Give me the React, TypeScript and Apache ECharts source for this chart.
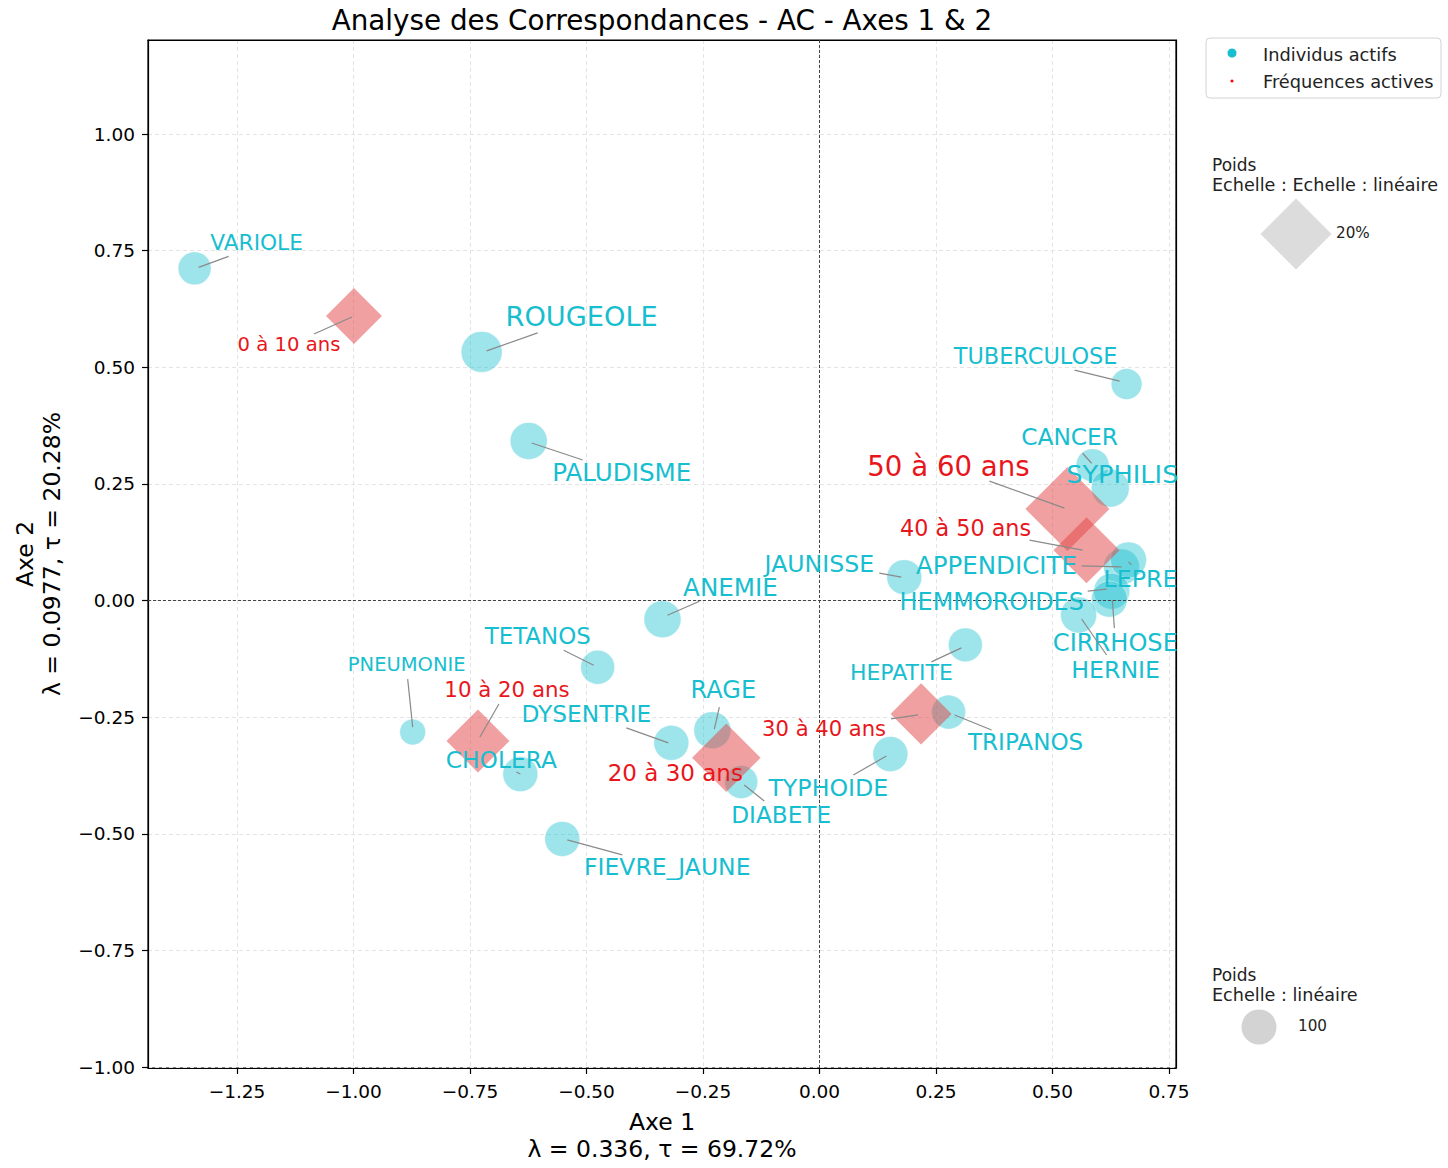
import React, { useEffect, useRef } from 'react';
import * as echarts from 'echarts';

const FONT = 'DejaVu Sans';

// ---- Texts ----
const titre = 'Analyse des Correspondances - AC - Axes 1 & 2';
const axe1Nom = 'Axe 1';
const axe1Stats = 'λ = 0.336, τ = 69.72%';
const axe2Nom = 'Axe 2';
const axe2Stats = 'λ = 0.0977, τ = 20.28%';
const legendeNoms = ['Individus actifs', 'Fréquences actives'];

// ---- Individus actifs (maladies) ----
const individus = ['VARIOLE', 'ROUGEOLE', 'PALUDISME', 'TUBERCULOSE', 'CANCER', 'SYPHILIS', 'JAUNISSE', 'APPENDICITE', 'LEPRE', 'HEMMOROIDES', 'CIRRHOSE', 'HERNIE', 'HEPATITE', 'TRIPANOS', 'TYPHOIDE', 'ANEMIE', 'TETANOS', 'PNEUMONIE', 'CHOLERA', 'DYSENTRIE', 'RAGE', 'DIABETE', 'FIEVRE_JAUNE'];
const indivAxe1 = [-1.341, -0.725, -0.624, 0.659, 0.586, 0.624, 0.182, 0.648, 0.663, 0.627, 0.622, 0.556, 0.313, 0.277, 0.152, -0.337, -0.476, -0.873, -0.642, -0.318, -0.230, -0.168, -0.552];
const indivAxe2 = [0.712, 0.533, 0.342, 0.464, 0.290, 0.241, 0.050, 0.072, 0.087, 0.020, 0.003, -0.031, -0.095, -0.239, -0.329, -0.040, -0.143, -0.282, -0.372, -0.305, -0.278, -0.389, -0.511];
const indivPoids = [89, 137, 112, 78, 89, 118, 100, 106, 106, 106, 106, 106, 94, 94, 100, 112, 94, 55, 100, 100, 112, 89, 100];

// ---- Fréquences actives (classes d'âge) ----
const frequences = ['0 à 10 ans', '10 à 20 ans', '20 à 30 ans', '30 à 40 ans', '40 à 50 ans', '50 à 60 ans'];
const freqAxe1 = [-0.999, -0.733, -0.200, 0.218, 0.573, 0.532];
const freqAxe2 = [0.610, -0.301, -0.337, -0.243, 0.108, 0.196];
const freqPoids = [12.4, 15.7, 18.6, 14.8, 17.3, 28.0];

// ---- Size legend references ----
const legendePoidsFreq = 20; // %
const legendePoidsIndiv = 100;

// ---- Label layout (pixel offsets from the point: text dx, dy, font size, leader line sx, sy, ex, ey) ----
const indivLabelLayout = [
  [62, -26, 21.7, 4, -1, 34, -12],
  [100, -35, 27.2, 5, -1, 56, -19],
  [93, 32, 24.6, 3, 2, 54, 19],
  [-91, -28, 22.4, -7, -3, -52, -14],
  [-23, -29, 23.3, -1, -2, -10, -12],
  [12, -14, 25.6, 0, 0, 0, 0],
  [-85, -13, 23.6, -3, 0, -25, -4],
  [-125, -1, 24.5, 0, 0, -40, -1],
  [12, 19, 23.7, 0, 2, 3, 5],
  [-120, 11, 23.9, -5, -2, -24, 0],
  [6, 44, 24.1, 3, 1, 5, 29],
  [37, 55, 23.7, 3, 4, 28, 40],
  [-64, 28, 22.0, -4, 3, -34, 17],
  [77, 30, 23.1, 6, 3, 43, 18],
  [-62, 34, 23.7, -4, 2, -37, 21],
  [68, -32, 24.6, 5, -4, 37, -18],
  [-60, -31, 22.9, -4, -2, -34, -17],
  [-6, -68, 19.5, 0, -5, -5, -53],
  [-19, -15, 23.3, -4, -2, 0, 0],
  [-85, -29, 23.3, -3, 0, -45, -15],
  [11, -40, 24.0, 2, -1, 7, -23],
  [40, 32, 23.2, 3, 3, 23, 19],
  [105, 28, 23.5, 5, 1, 60, 16],
];
const freqLabelLayout = [
  [-65, 29, 19.6, -2, 1, -40, 18],
  [29, -51, 21.3, 2, -4, 21, -37],
  [-51, 15, 23.0, 0, 0, 0, 0],
  [-97, 15, 21.1, -3, 1, -30, 5],
  [-121, -22, 22.3, -4, 0, -57, -10],
  [-119, -43, 27.6, -3, -1, -78, -28],
];

const CYAN = '#17becf';
const RED_FILL = 'rgb(225,65,65)';
const RED_TEXT = '#e8161b';

const circleSize = (w: number) => 35 * Math.sqrt(w / legendePoidsIndiv);
const diamondSize = (w: number) => 71 * Math.sqrt(w / legendePoidsFreq);

const tickFmt = (v: number) => {
  const k = v * 4;
  if (Math.abs(k - Math.round(k)) > 1e-6) return '';
  return (v < -1e-9 ? '\u2212' : '') + Math.abs(v).toFixed(2);
};

const makeLabelRender = (names: string[], layout: number[][], color: string) =>
  (params: any, api: any) => {
    const i = api.value(2);
    const p = api.coord([api.value(0), api.value(1)]);
    const L = layout[i];
    const children: any[] = [];
    const hasLine = Math.hypot(L[5] - L[3], L[6] - L[4]) > 1;
    if (hasLine) {
      children.push({
        type: 'line',
        shape: { x1: p[0] + L[3], y1: p[1] + L[4], x2: p[0] + L[5], y2: p[1] + L[6] },
        style: { stroke: '#8a8a8a', lineWidth: 1.2 },
      });
    }
    children.push({
      type: 'text',
      x: p[0] + L[0],
      y: p[1] + L[1],
      style: {
        text: names[i],
        fill: color,
        fontSize: L[2],
        fontFamily: FONT,
        align: 'center',
        verticalAlign: 'middle',
      },
    });
    return { type: 'group', children };
  };

const axisCommon = {
  type: 'value',
  minInterval: 0.25,
  maxInterval: 0.25,
  nameLocation: 'middle',
  nameTextStyle: { fontSize: 23.5, color: '#000', fontFamily: FONT, lineHeight: 27 },
  axisLine: { show: true, onZero: false, lineStyle: { color: '#000', width: 1.2 } },
  axisTick: { show: true, length: 6, lineStyle: { color: '#000', width: 1.2 } },
  axisLabel: { formatter: tickFmt, fontSize: 18.5, color: '#000', fontFamily: FONT, showMinLabel: false, showMaxLabel: false },
  splitLine: { show: true, showMinLine: false, showMaxLine: false, lineStyle: { color: '#e4e4e4', type: [4, 3], width: 1 } },
};

const buildOption = () => ({
  animation: false,
  backgroundColor: '#fff',
  textStyle: { fontFamily: FONT },
  grid: {
    left: 148, top: 40, width: 1028, height: 1028,
    show: true, borderColor: '#000', borderWidth: 1.2, backgroundColor: 'transparent',
    containLabel: false, outerBoundsMode: 'none',
  },
  xAxis: [
    {
      ...axisCommon,
      min: -1.441, max: 0.765,
      name: axe1Nom + '\n' + axe1Stats,
      nameGap: 40,
      axisLabel: { ...axisCommon.axisLabel, margin: 14 },
    },
    {
      type: 'value', position: 'top', min: -1.441, max: 0.765,
      axisLine: { show: true, onZero: false, lineStyle: { color: '#000', width: 1.2 } },
      axisTick: { show: false }, axisLabel: { show: false }, splitLine: { show: false },
    },
  ],
  yAxis: [
    {
      ...axisCommon,
      min: -1.002, max: 1.2015,
      name: axe2Nom + '\n' + axe2Stats,
      nameRotate: 90,
      nameGap: 83,
      axisLabel: { ...axisCommon.axisLabel, margin: 13 },
    },
    {
      type: 'value', position: 'right', min: -1.002, max: 1.2015,
      axisLine: { show: true, onZero: false, lineStyle: { color: '#000', width: 1.2 } },
      axisTick: { show: false }, axisLabel: { show: false }, splitLine: { show: false },
    },
  ],
  graphic: [
    { type: 'text', x: 662, y: 20, style: { text: titre, fontSize: 27.8, fontFamily: FONT, fill: '#000', align: 'center', verticalAlign: 'middle' } },
    { type: 'rect', shape: { x: 1206, y: 38, width: 235, height: 60, r: 4 }, style: { fill: '#fff', stroke: '#d2d2d2', lineWidth: 1 } },
    { type: 'circle', shape: { cx: 1232, cy: 53, r: 4.5 }, style: { fill: CYAN } },
    { type: 'text', x: 1263, y: 54, style: { text: legendeNoms[0], fontSize: 17.8, fontFamily: FONT, fill: '#222', verticalAlign: 'middle' } },
    { type: 'circle', shape: { cx: 1232, cy: 81, r: 1.5 }, style: { fill: 'red' } },
    { type: 'text', x: 1263, y: 81, style: { text: legendeNoms[1], fontSize: 17.8, fontFamily: FONT, fill: '#222', verticalAlign: 'middle' } },

    { type: 'text', x: 1212, y: 165, style: { text: 'Poids', fontSize: 17, fontFamily: FONT, fill: '#222', verticalAlign: 'middle' } },
    { type: 'text', x: 1212, y: 185, style: { text: 'Echelle : Echelle : linéaire', fontSize: 17.6, fontFamily: FONT, fill: '#222', verticalAlign: 'middle' } },
    {
      type: 'polygon',
      shape: {
        points: [
          [1296, 234 - diamondSize(legendePoidsFreq) / 2],
          [1296 + diamondSize(legendePoidsFreq) / 2, 234],
          [1296, 234 + diamondSize(legendePoidsFreq) / 2],
          [1296 - diamondSize(legendePoidsFreq) / 2, 234],
        ],
      },
      style: { fill: '#dcdcdc' },
    },
    { type: 'text', x: 1336, y: 233, style: { text: legendePoidsFreq + '%', fontSize: 15.2, fontFamily: FONT, fill: '#222', verticalAlign: 'middle' } },

    { type: 'text', x: 1212, y: 975, style: { text: 'Poids', fontSize: 17, fontFamily: FONT, fill: '#222', verticalAlign: 'middle' } },
    { type: 'text', x: 1212, y: 995, style: { text: 'Echelle : linéaire', fontSize: 17.6, fontFamily: FONT, fill: '#222', verticalAlign: 'middle' } },
    { type: 'circle', shape: { cx: 1259, cy: 1027, r: circleSize(legendePoidsIndiv) / 2 }, style: { fill: '#d3d3d3' } },
    { type: 'text', x: 1298, y: 1026, style: { text: String(legendePoidsIndiv), fontSize: 15.2, fontFamily: FONT, fill: '#222', verticalAlign: 'middle' } },
  ],
  series: [
    {
      name: legendeNoms[0],
      type: 'scatter',
      z: 2,
      symbol: 'circle',
      symbolSize: (v: number[]) => circleSize(v[2]),
      itemStyle: { color: CYAN, opacity: 0.42, borderColor: '#fff', borderWidth: 1 },
      data: individus.map((_, i) => [indivAxe1[i], indivAxe2[i], indivPoids[i]]),
      markLine: {
        silent: true,
        symbol: ['none', 'none'],
        label: { show: false },
        lineStyle: { color: '#444', type: [3, 2], width: 1 },
        data: [{ xAxis: 0 }, { yAxis: 0 }],
      },
    },
    {
      name: legendeNoms[1],
      type: 'scatter',
      z: 3,
      symbol: 'diamond',
      symbolSize: (v: number[]) => diamondSize(v[2]),
      itemStyle: { color: RED_FILL, opacity: 0.5 },
      data: frequences.map((_, i) => [freqAxe1[i], freqAxe2[i], freqPoids[i]]),
    },
    {
      type: 'custom',
      z: 5,
      silent: true,
      clip: false,
      renderItem: makeLabelRender(individus, indivLabelLayout, CYAN),
      data: individus.map((_, i) => [indivAxe1[i], indivAxe2[i], i]),
    },
    {
      type: 'custom',
      z: 5,
      silent: true,
      clip: false,
      renderItem: makeLabelRender(frequences, freqLabelLayout, RED_TEXT),
      data: frequences.map((_, i) => [freqAxe1[i], freqAxe2[i], i]),
    },
  ],
});

export default function App() {
  const ref = useRef<HTMLDivElement>(null);
  useEffect(() => {
    if (!ref.current) return;
    const chart = echarts.init(ref.current, null, { renderer: 'svg' });
    chart.setOption(buildOption() as any);
    return () => chart.dispose();
  }, []);
  return (
    <div
      ref={ref}
      style={{ position: 'absolute', left: 0, top: 0, width: 1448, height: 1168, background: '#fff' }}
    />
  );
}
